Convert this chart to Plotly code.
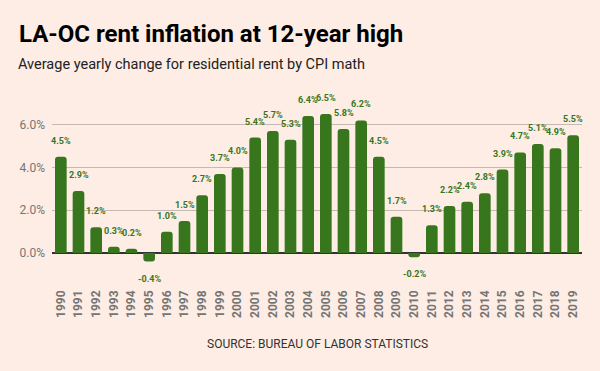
import plotly.graph_objects as go

years = [str(y) for y in range(1990, 2020)]
values = [4.5, 2.9, 1.2, 0.3, 0.2, -0.4, 1.0, 1.5, 2.7, 3.7,
          4.0, 5.4, 5.7, 5.3, 6.4, 6.5, 5.8, 6.2, 4.5, 1.7,
          -0.2, 1.3, 2.2, 2.4, 2.8, 3.9, 4.7, 5.1, 4.9, 5.5]
y_ticks = [0, 2, 4, 6]
y_tick_labels = ["0.0%", "2.0%", "4.0%", "6.0%"]

title = "LA-OC rent inflation at 12-year high"
subtitle = "Average yearly change for residential rent by CPI math"
source = "SOURCE: BUREAU OF LABOR STATISTICS"

BG = "#fdede4"
GREEN = "#38761d"

fig = go.Figure()
fig.add_trace(go.Bar(
    x=years, y=values, marker=dict(color=GREEN, line=dict(width=0)),
    hoverinfo="skip",
))

annotations = []
for i, v in enumerate(values):
    annotations.append(dict(
        x=i, y=v, xref="x", yref="y", text=f"{v:.1f}%", showarrow=False,
        xanchor="center", yanchor="middle", yshift=16 if v >= 0 else -17,
        font=dict(family="Roboto", size=9, color=GREEN, weight="bold"),
    ))

annotations.append(dict(
    x=-0.0623, y=1.186, xref="paper", yref="paper", text=subtitle,
    showarrow=False, xanchor="left", yanchor="middle", xshift=-3,
    font=dict(family="Roboto", size=14.5, color="#222222"),
))
annotations.append(dict(
    x=0.5, y=-0.33, xref="paper", yref="paper", text=source,
    showarrow=False, xanchor="center", yanchor="middle",
    font=dict(family="Roboto", size=12, color="#333333"),
))

fig.update_layout(
    width=600, height=371,
    paper_bgcolor=BG, plot_bgcolor=BG,
    margin=dict(l=52, r=18, t=99, b=88),
    bargap=0.34,
    barcornerradius=3,
    showlegend=False,
    title=dict(
        text=f"<b>{title}</b>", xref="container", yref="container",
        x=19 / 600, xanchor="left", y=1 - 34 / 371, yanchor="middle",
        font=dict(family="Roboto", size=24, color="#000000"),
    ),
    annotations=annotations,
    xaxis=dict(
        type="category", range=[-0.5, len(years) - 0.5], tickangle=-90,
        showgrid=False, showline=False, ticklabelstandoff=4,
        ticks="", tickfont=dict(family="Roboto", size=12, color="#757575", weight="bold"),
    ),
    yaxis=dict(
        range=[-1.4, 7.2], tickvals=y_ticks, ticktext=y_tick_labels,
        showgrid=True, gridcolor="#c4bab3", gridwidth=1,
        zeroline=True, zerolinecolor="#333333", zerolinewidth=1.5,
        ticks="", ticklabelstandoff=6,
        tickfont=dict(family="Roboto", size=12, color="#757575"),
    ),
)

fig.write_html(
    "out.html",
    config={"displayModeBar": False},
    post_script=(
        "document.body.style.margin='0';"
        "document.body.style.background='" + BG + "';"
    ),
)
